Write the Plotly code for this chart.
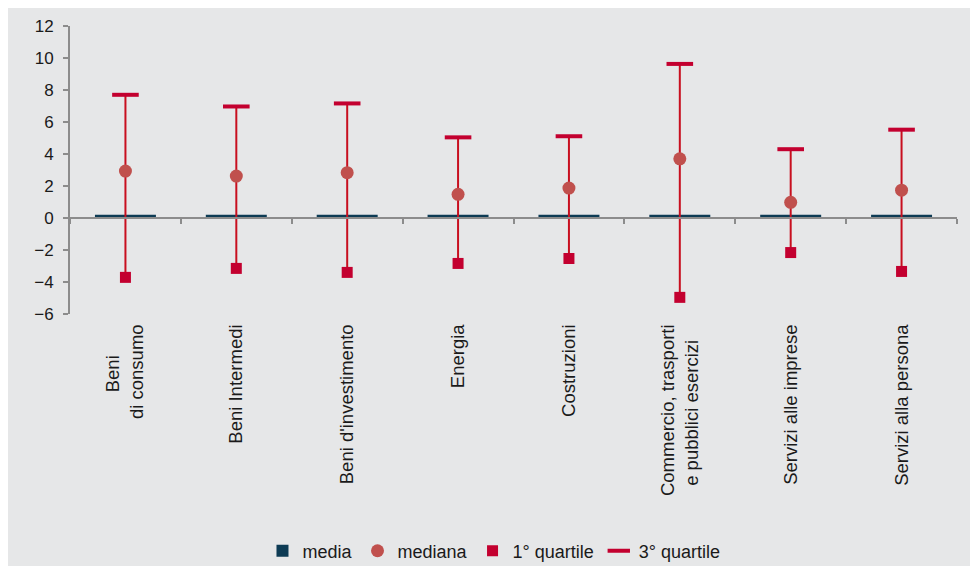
import plotly.graph_objects as go

# settori (nbsp pad the shorter line so the two lines look centred once rotated)
NB = '\u00a0'
categorie = ["Beni" + NB * 6 + "<br>di consumo", "Beni Intermedi", "Beni d'investimento", "Energia",
             "Costruzioni", "Commercio, trasporti<br>e pubblici esercizi" + NB * 3,
             "Servizi alle imprese", "Servizi alla persona"]

media = [0.2, 0.2, 0.2, 0.2, 0.2, 0.2, 0.2, 0.2]
mediana = [2.93, 2.62, 2.83, 1.48, 1.87, 3.70, 0.98, 1.74]
quartile_1 = [-3.71, -3.15, -3.40, -2.84, -2.53, -4.96, -2.16, -3.34]
quartile_3 = [7.70, 6.97, 7.16, 5.04, 5.11, 9.63, 4.30, 5.52]

y_ticks = [-6, -4, -2, 0, 2, 4, 6, 8, 10, 12]

ROSSO = '#c3002f'
ROSSO_LINEA = '#c80f1f'
ROSSO_CERCHIO = '#c0504d'
BLU = '#0d3b54'
GRIGIO = '#8c8c8c'
SFONDO = '#e6e7e8'
FONT = 'Liberation Sans, Arial, sans-serif'

fig = go.Figure()

fig.add_trace(go.Bar(
    x=categorie, y=media, name='media',
    marker=dict(color=BLU, line=dict(width=0)),
    width=0.55, legendrank=1,
))

# 1° quartile, with the range line up to the 3° quartile
arr_plus = [q3 - q1 for q1, q3 in zip(quartile_1, quartile_3)]
fig.add_trace(go.Scatter(
    x=categorie, y=quartile_1, name='1° quartile', mode='markers',
    marker=dict(symbol='square', size=11, color=ROSSO),
    error_y=dict(type='data', symmetric=False, array=arr_plus,
                 arrayminus=[0] * len(arr_plus), width=0,
                 thickness=2, color=ROSSO_LINEA),
    legendrank=3,
))

fig.add_trace(go.Scatter(
    x=categorie, y=quartile_3, name='3° quartile', mode='markers',
    marker=dict(symbol='line-ew', size=19, color=ROSSO,
                line=dict(width=4, color=ROSSO)),
    legendrank=4,
))

fig.add_trace(go.Scatter(
    x=categorie, y=mediana, name='mediana', mode='markers',
    marker=dict(symbol='circle', size=13, color=ROSSO_CERCHIO),
    legendrank=2,
))

# the page body adds an 8px white border, so the figure is sized to the rest
fig.update_layout(
    width=970, height=558,
    margin=dict(l=62, r=21, t=18, b=252, autoexpand=False),
    paper_bgcolor=SFONDO,
    plot_bgcolor=SFONDO,
    font=dict(family=FONT, size=16, color='#1a1a1a'),
    showlegend=True,
    legend=dict(orientation='h', x=0.478, xanchor='center', y=-0.823,
                yanchor='middle', font=dict(size=18), bgcolor='rgba(0,0,0,0)',
                itemwidth=30),
    xaxis=dict(
        type='category', categoryorder='array', categoryarray=categorie,
        range=[-0.5, 7.5],
        anchor='free', position=1 / 3,
        showline=True, linecolor=GRIGIO, linewidth=2,
        ticks='outside', tickson='boundaries', ticklen=5, tickwidth=2, tickcolor=GRIGIO,
        tickangle=-90, ticklabelstandoff=98,
        showgrid=False, zeroline=False,
        tickfont=dict(size=18.5),
    ),
    yaxis=dict(
        range=[-6, 12], tickvals=y_ticks,
        showline=True, linecolor=GRIGIO, linewidth=2,
        ticks='outside', ticklen=5, tickwidth=2, tickcolor=GRIGIO,
        showgrid=False, zeroline=False,
        ticklabelstandoff=6,
        tickfont=dict(size=17),
    ),
)

fig.write_html("out.html")
